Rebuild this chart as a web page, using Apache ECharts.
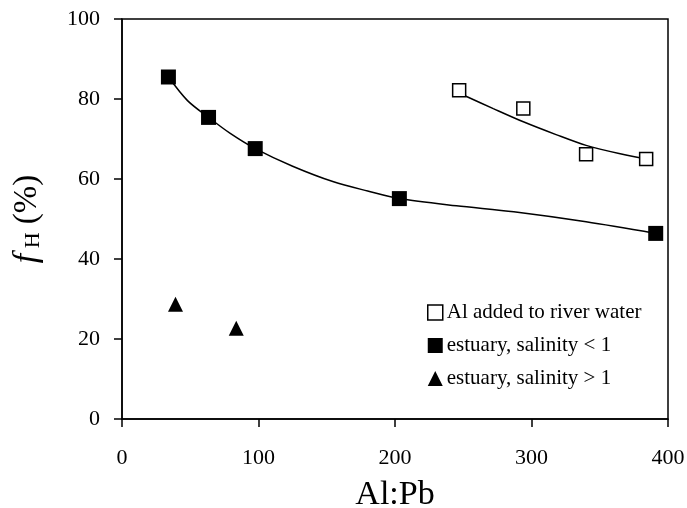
<!DOCTYPE html>
<html>
<head>
<meta charset="utf-8">
<script src="https://cdn.jsdelivr.net/npm/echarts@6/dist/echarts.min.js"></script>
<style>
  html, body { margin: 0; padding: 0; background: #fff; }
  #chart { width: 687px; height: 508px; }
</style>
</head>
<body>
<div id="chart"></div>
<script>
// data
const riverX = [247, 294, 340, 384];
const riverY = [82.2, 77.6, 66.2, 65.0];
const lowSalX = [34, 63.4, 97.6, 203.2, 391];
const lowSalY = [85.5, 75.4, 67.6, 55.1, 46.4];
const highSalX = [39.2, 83.7];
const highSalY = [28.7, 22.7];

// fitted curves
const riverFitX = [250, 272, 294, 318, 340, 365, 389];
const riverFitY = [81, 77.6, 74.3, 71.1, 68.4, 66.3, 64.7];
const lowFitX = [34, 48, 63.4, 79.3, 97.6, 125, 155, 180, 203.2, 245, 287, 340, 391];
const lowFitY = [85.5, 79.6, 75.4, 71.4, 67.6, 63.2, 59.3, 57.0, 55.1, 53.3, 51.8, 49.3, 46.4];

const names = ["Al added to river water", "estuary, salinity < 1", "estuary, salinity > 1"];

function pairs(xs, ys) {
  const out = [];
  for (let i = 0; i < xs.length; i++) {
    out.push([xs[i], ys[i]]);
  }
  return out;
}

const chart = echarts.init(document.getElementById("chart"));
const serif = "Liberation Serif";

const option = {
  animation: false,
  textStyle: { fontFamily: serif, color: "#000" },
  grid: {
    left: 122, right: 19, top: 19, bottom: 89,
    outerBoundsMode: "none",
    show: true, borderColor: "#000", borderWidth: 1.5,
  },
  legend: {
    orient: "vertical",
    left: 422,
    top: 297,
    itemWidth: 15,
    itemHeight: 15,
    itemGap: 12,
    textStyle: { fontFamily: serif, fontSize: 21, color: "#000", padding: [0, 0, 0, -1] },
    data: [
      { name: names[0], icon: "rect", itemStyle: { color: "#fff", borderColor: "#000", borderWidth: 1.5 } },
      { name: names[1], icon: "rect" },
      { name: names[2], icon: "triangle" },
    ],
  },
  xAxis: {
    type: "value",
    min: 0,
    max: 400,
    interval: 100,
    name: "Al:Pb",
    nameLocation: "middle",
    nameGap: 59,
    nameTextStyle: { fontFamily: serif, fontSize: 34, color: "#000" },
    axisLine: { lineStyle: { color: "#000", width: 1.5 } },
    axisTick: { inside: false, length: 8, lineStyle: { color: "#000", width: 1.5 } },
    axisLabel: { fontFamily: serif, fontSize: 22, color: "#000", margin: 28 },
    splitLine: { show: false },
  },
  yAxis: {
    type: "value",
    min: 0,
    max: 100,
    interval: 20,
    name: "{i|f}{s| H} (%)",
    nameLocation: "middle",
    nameRotate: 90,
    nameGap: 78,
    nameTextStyle: {
      fontFamily: serif,
      fontSize: 33,
      color: "#000",
      rich: {
        i: { fontFamily: serif, fontStyle: "italic", fontSize: 34, color: "#000" },
        s: { fontFamily: serif, fontSize: 22, color: "#000", verticalAlign: "bottom", padding: [12, 0, 0, 0] },
      },
    },
    axisLine: { lineStyle: { color: "#000", width: 1.5 } },
    axisTick: { inside: false, length: 8, lineStyle: { color: "#000", width: 1.5 } },
    axisLabel: { fontFamily: serif, fontSize: 22, color: "#000", margin: 22 },
    splitLine: { show: false },
  },
  series: [
    {
      type: "line",
      data: pairs(riverFitX, riverFitY),
      smooth: 0.3,
      showSymbol: false,
      lineStyle: { color: "#000", width: 1.5 },
      z: 1,
    },
    {
      type: "line",
      data: pairs(lowFitX, lowFitY),
      smooth: 0.3,
      showSymbol: false,
      lineStyle: { color: "#000", width: 1.5 },
      z: 1,
    },
    {
      name: names[0],
      type: "scatter",
      symbol: "rect",
      symbolSize: 13,
      data: pairs(riverX, riverY),
      itemStyle: { color: "#fff", borderColor: "#000", borderWidth: 1.5, opacity: 1 },
      z: 3,
    },
    {
      name: names[1],
      type: "scatter",
      symbol: "rect",
      symbolSize: 15,
      data: pairs(lowSalX, lowSalY),
      itemStyle: { color: "#000", opacity: 1 },
      z: 3,
    },
    {
      name: names[2],
      type: "scatter",
      symbol: "triangle",
      symbolSize: 15,
      data: pairs(highSalX, highSalY),
      itemStyle: { color: "#000", opacity: 1 },
      z: 3,
    },
  ],
};

chart.setOption(option);
</script>
</body>
</html>
